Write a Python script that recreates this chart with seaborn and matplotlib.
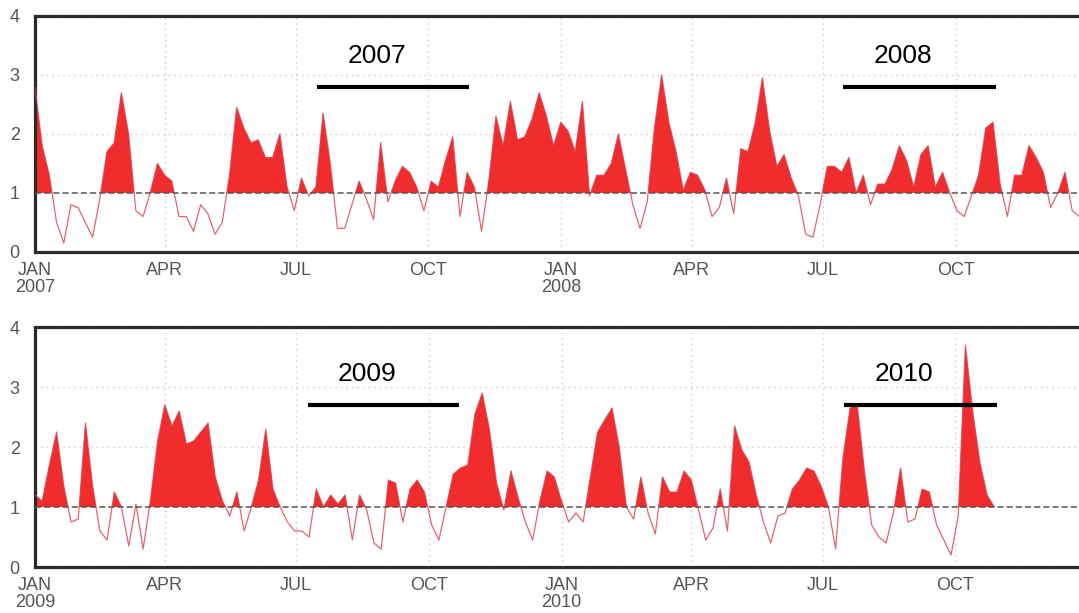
import numpy as np
import pandas as pd
import seaborn as sns
import matplotlib.pyplot as plt

# Nilai indeks tiap 5 hari
start_0708 = '2007-01-01'
vals_0708 = [
    2.8, 1.8, 1.3, 0.5, 0.15, 0.8, 0.75, 0.5, 0.25, 0.9,
    1.7, 1.85, 2.7, 2.0, 0.7, 0.6, 1.0, 1.5, 1.3, 1.2,
    0.6, 0.6, 0.35, 0.8, 0.65, 0.3, 0.5, 1.3, 2.45, 2.1,
    1.85, 1.9, 1.6, 1.6, 2.0, 1.1, 0.7, 1.25, 0.95, 1.1,
    2.35, 1.5, 0.4, 0.4, 0.8, 1.2, 0.9, 0.55, 1.85, 0.85,
    1.2, 1.45, 1.35, 1.1, 0.7, 1.2, 1.1, 1.55, 1.95, 0.6,
    1.35, 1.1, 0.35, 1.2, 2.3, 1.8, 2.55, 1.9, 1.95, 2.25,
    2.7, 2.3, 1.8, 2.2, 2.05, 1.7, 2.55, 0.95, 1.3, 1.3,
    1.5, 2.0, 1.4, 0.8, 0.4, 0.85, 2.1, 3.0, 2.2, 1.7,
    1.05, 1.35, 1.3, 1.05, 0.6, 0.75, 1.25, 0.65, 1.75, 1.7,
    2.2, 2.95, 2.05, 1.45, 1.65, 1.25, 0.95, 0.3, 0.25, 0.8,
    1.45, 1.45, 1.35, 1.6, 1.0, 1.3, 0.8, 1.15, 1.15, 1.4,
    1.8, 1.55, 1.1, 1.65, 1.8, 1.1, 1.35, 1.0, 0.7, 0.6,
    0.95, 1.3, 2.1, 2.2, 1.15, 0.6, 1.3, 1.3, 1.8, 1.6,
    1.35, 0.75, 1.0, 1.35, 0.7, 0.6,
]

start_0910 = '2009-01-01'
vals_0910 = [
    1.2, 1.1, 1.7, 2.25, 1.35, 0.75, 0.8, 2.4, 1.35, 0.6,
    0.45, 1.25, 1.0, 0.35, 1.05, 0.3, 1.1, 2.1, 2.7, 2.35,
    2.6, 2.05, 2.1, 2.25, 2.4, 1.5, 1.1, 0.85, 1.25, 0.6,
    1.0, 1.45, 2.3, 1.3, 1.0, 0.75, 0.6, 0.6, 0.5, 1.3,
    1.0, 1.2, 1.05, 1.2, 0.45, 1.2, 0.95, 0.4, 0.3, 1.45,
    1.4, 0.75, 1.3, 1.45, 1.25, 0.7, 0.45, 1.0, 1.55, 1.65,
    1.7, 2.55, 2.9, 2.3, 1.4, 0.95, 1.6, 1.15, 0.75, 0.45,
    1.1, 1.6, 1.5, 1.1, 0.75, 0.9, 0.75, 1.5, 2.25, 2.45,
    2.65, 2.0, 1.0, 0.8, 1.5, 0.9, 0.55, 1.5, 1.25, 1.25,
    1.6, 1.45, 0.95, 0.45, 0.65, 1.3, 0.6, 2.35, 1.95, 1.75,
    1.2, 0.75, 0.4, 0.85, 0.9, 1.3, 1.45, 1.65, 1.6, 1.35,
    1.0, 0.3, 1.8, 2.65, 2.7, 1.6, 0.7, 0.5, 0.4, 0.9,
    1.65, 0.75, 0.8, 1.3, 1.25, 0.7, 0.45, 0.2, 0.85, 3.7,
    2.6, 1.75, 1.2, 1.0,
]

# Penanda musim (Jul - Okt) tiap tahun
labels_0708 = ['2007', '2008']
seg_start_0708 = ['2007-07-16', '2008-07-15']
seg_end_0708 = ['2007-10-29', '2008-10-29']
seg_level_0708 = 2.8

labels_0910 = ['2009', '2010']
seg_start_0910 = ['2009-07-09', '2010-07-16']
seg_end_0910 = ['2009-10-22', '2010-10-30']
seg_level_0910 = 2.7

sns.set_style('white')
plt.rcParams['font.family'] = ['Liberation Sans', 'DejaVu Sans']

fig = plt.figure(figsize=(10.79, 6.13), dpi=100)
ax1 = fig.add_axes([0.0324, 0.589, 0.976, 0.385])
ax2 = fig.add_axes([0.0324, 0.075, 0.976, 0.3915])


def draw_panel(ax, start, vals, labels, seg_start, seg_end, level, year0):
    dates = pd.date_range(start, periods=len(vals), freq='5D')
    y = np.array(vals)
    df = pd.DataFrame({'date': dates, 'value': y})

    # Isi merah di atas 1
    ax.fill_between(dates, y, 1, where=y > 1, interpolate=True,
                    color='#f02c2c', lw=0, zorder=2)
    sns.lineplot(data=df, x='date', y='value', ax=ax, color='#d8404c',
                 lw=0.9, alpha=0.8, zorder=3)
    ax.axhline(1, color='#555555', lw=1.1, ls=(0, (4, 2)), zorder=4)

    # Garis penanda dan label tahun
    for lab, s, e in zip(labels, seg_start, seg_end):
        s = pd.Timestamp(s)
        e = pd.Timestamp(e)
        ax.plot([s, e], [level, level], color='black', lw=3, zorder=5,
                solid_capstyle='butt')
        ax.text(s + pd.Timedelta(days=21), level + 0.52, lab, fontsize=19,
                ha='left', va='center', color='black', zorder=6)

    ax.set_xlim(pd.Timestamp(f'{year0}-01-01'), pd.Timestamp(f'{year0 + 2}-01-01'))
    ax.set_ylim(0, 4)

    ticks = pd.date_range(f'{year0}-01-01', periods=8, freq='QS')
    ticklabels = []
    for t in ticks:
        name = t.strftime('%b').upper()
        if t.month == 1:
            name = name + '\n' + str(t.year)
        ticklabels.append(name)
    ax.set_xticks(ticks)
    ax.set_xticklabels(ticklabels, fontsize=13, color='#555555',
                       linespacing=1.05)
    ax.set_yticks([0, 1, 2, 3, 4])
    ax.set_yticklabels(['0', '1', '2', '3', '4'], fontsize=13, color='#555555')
    ax.tick_params(axis='x', length=4, width=1.2, color='#333333', pad=3)
    ax.tick_params(axis='y', length=5, width=1.2, color='#333333', pad=6)
    ax.set_xlabel('')
    ax.set_ylabel('')

    # Grid titik abu-abu
    for yy in [2, 3]:
        ax.axhline(yy, color='#c8c8c8', lw=1, ls=(0, (1, 3)), zorder=1)
    for t in ticks[1:]:
        ax.axvline(t, color='#c8c8c8', lw=1, ls=(0, (1, 3)), zorder=1)

    for side in ['top', 'bottom', 'left']:
        ax.spines[side].set_linewidth(2.3)
        ax.spines[side].set_linestyle((0, (2.5, 0.8)))
        ax.spines[side].set_color('#2a2a2a')
    ax.spines['right'].set_visible(False)


draw_panel(ax1, start_0708, vals_0708, labels_0708, seg_start_0708,
           seg_end_0708, seg_level_0708, 2007)
draw_panel(ax2, start_0910, vals_0910, labels_0910, seg_start_0910,
           seg_end_0910, seg_level_0910, 2009)

fig.savefig('out.png', dpi=100)
